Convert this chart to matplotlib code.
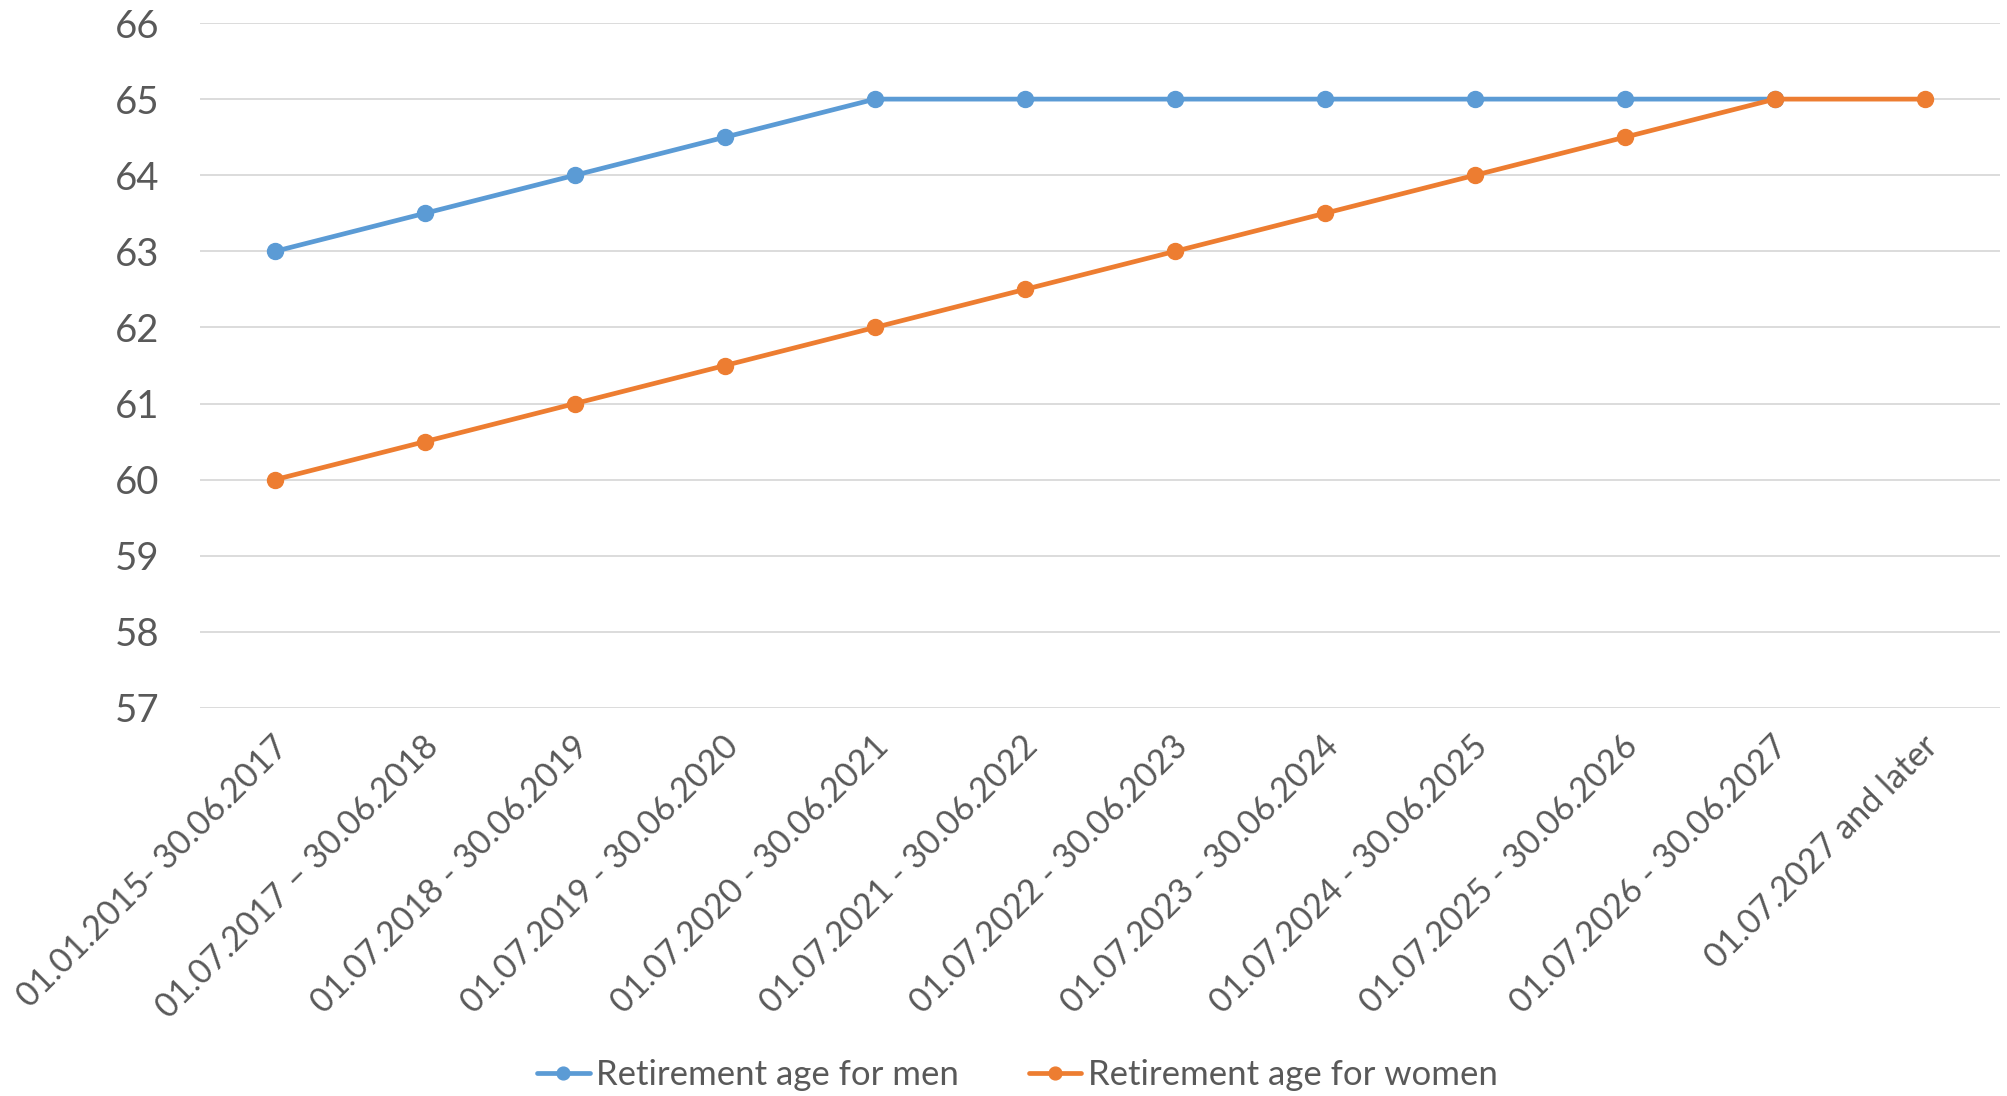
import matplotlib
matplotlib.use("Agg")
import matplotlib.pyplot as plt
import matplotlib.transforms as mtrans

periods = [
    "01.01.2015- 30.06.2017",
    "01.07.2017 \u2013 30.06.2018",
    "01.07.2018 - 30.06.2019",
    "01.07.2019 - 30.06.2020",
    "01.07.2020 - 30.06.2021",
    "01.07.2021 - 30.06.2022",
    "01.07.2022 - 30.06.2023",
    "01.07.2023 - 30.06.2024",
    "01.07.2024 - 30.06.2025",
    "01.07.2025 - 30.06.2026",
    "01.07.2026 - 30.06.2027",
    "01.07.2027 and later",
]
men = [63, 63.5, 64, 64.5, 65, 65, 65, 65, 65, 65, 65, None]
women = [60, 60.5, 61, 61.5, 62, 62.5, 63, 63.5, 64, 64.5, 65, 65]
yticks = [57, 58, 59, 60, 61, 62, 63, 64, 65, 66]

plt.rcParams['font.family'] = ['Lato', 'DejaVu Sans']
text_color = '#595959'

fig = plt.figure(figsize=(20.07, 10.96), dpi=100)
ax = fig.add_axes([200/2007, 1 - 708/1096, 1800/2007, (708-23)/1096])

x = list(range(len(periods)))
men_x = [i for i, v in zip(x, men) if v is not None]
men_y = [v for v in men if v is not None]
ax.plot(men_x, men_y, color='#5B9BD5', lw=3.4, marker='o', ms=11.5,
        label='Retirement age for men', zorder=3, solid_capstyle='round')
ax.plot(x, women, color='#ED7D31', lw=3.4, marker='o', ms=11.5,
        label='Retirement age for women', zorder=4, solid_capstyle='round')

ax.set_xlim(-0.5, len(periods) - 0.5)
ax.set_ylim(57, 66)
ax.set_yticks(yticks)
ax.set_yticklabels([str(t) for t in yticks])
ax.grid(axis='y', color='#D9D9D9', lw=1.3)
ax.set_axisbelow(True)
for s in ax.spines.values():
    s.set_visible(False)
ax.tick_params(axis='y', length=0, pad=29, labelsize=27.5, labelcolor=text_color)
ax.set_xticks(x)
ax.set_xticklabels(periods, rotation=45, ha='right', va='center',
                   rotation_mode='anchor')
ax.tick_params(axis='x', length=0, pad=24, labelsize=24.5, labelcolor=text_color)
offset = mtrans.ScaledTranslation(8/100, 0, fig.dpi_scale_trans)
for lab in ax.get_xticklabels():
    lab.set_transform(lab.get_transform() + offset)

leg = fig.legend(loc='center', bbox_to_anchor=(0.507, 0.019), ncol=2,
                 frameon=False, fontsize=25, handlelength=1.5,
                 columnspacing=2.0, handletextpad=0.2, markerscale=0.8)
for t in leg.get_texts():
    t.set_color(text_color)

fig.savefig('out.png', dpi=100)
